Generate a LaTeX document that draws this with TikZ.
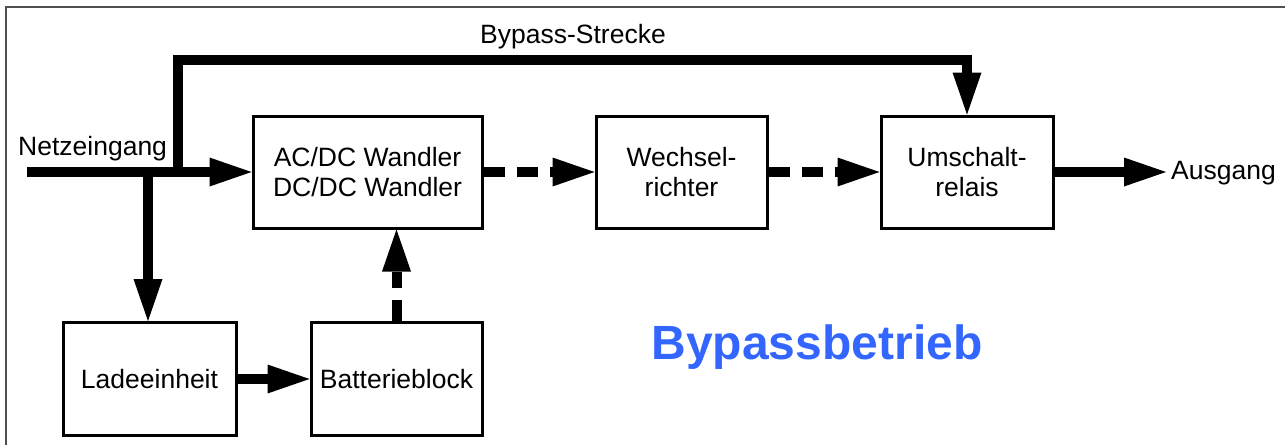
\documentclass[tikz,border=0pt]{standalone}
\usepackage{fontspec}
\setmainfont{Liberation Sans}
\usetikzlibrary{arrows.meta}
\definecolor{modeblue}{RGB}{51,102,255}
\definecolor{framegray}{RGB}{80,80,80}
\begin{document}
\begin{tikzpicture}[x=1pt,y=-1pt,
  box/.style={draw,line width=3pt,align=center,inner sep=0pt,
    font=\fontsize{26.5}{30}\selectfont},
  lbl/.style={font=\fontsize{26.5}{30}\selectfont,inner sep=0pt},
  flow/.style={line width=10pt,-{Triangle[length=42pt,width=29pt,line width=0pt]}},
  dflow/.style={flow,dash pattern=on 21pt off 12pt},
  wire/.style={line width=10pt}]
\useasboundingbox (0,0) rectangle (1285,445);
% frame
\draw[framegray,line width=2pt] (6,445) -- (6,7) -- (1285,7);
% boxes
\node[box,minimum width=229pt,minimum height=112pt] (acdc) at (367.5,172) {AC/DC Wandler\\DC/DC Wandler};
\node[box,minimum width=171pt,minimum height=112pt] (wr) at (681.5,172) {Wechsel-\\richter};
\node[box,minimum width=172pt,minimum height=112pt] (usr) at (967,172) {Umschalt-\\relais};
\node[box,minimum width=173pt,minimum height=113pt] (lade) at (149.5,379) {Ladeeinheit};
\node[box,minimum width=171pt,minimum height=113pt] (batt) at (396.5,379) {Batterieblock};
% texts
\node[lbl,anchor=base west] (netz) at (18,155) {Netzeingang};
\node[lbl,anchor=base] (bptxt) at (573,43) {Bypass-Strecke};
\node[lbl,anchor=west] (aus) at (1171,173) {Ausgang};
\node[font=\fontsize{48}{56}\bfseries\selectfont,text=modeblue,inner sep=0pt] (mode) at (817,347) {Bypassbetrieb};
% coordinates
\coordinate (in) at (27,172);
\coordinate (j1) at (178,172);
\coordinate (j2) at (148,172);
\coordinate (bt) at (178,60);
\coordinate (out) at (1166,172);
% connectors
\draw[flow] (in) -- (acdc.west);
\draw[flow] (j1) -- (bt) -| (usr.north);
\draw[flow] (j2) -- (j2 |- lade.north);
\draw[flow] (lade.east) -- (batt.west);
\draw[dflow] (batt.north) -- (batt.north |- acdc.south);
\draw[dflow] (acdc.east) -- (wr.west);
\draw[dflow] (wr.east) -- (usr.west);
\draw[flow] (usr.east) -- (out);
\end{tikzpicture}
\end{document}
